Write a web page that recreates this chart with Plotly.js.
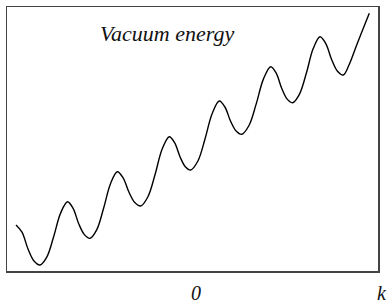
<!DOCTYPE html>
<html>
<head>
<meta charset="utf-8">
<script src="https://cdn.plot.ly/plotly-3.0.1.min.js"></script>
<style>html,body{margin:0;padding:0;background:#fff;}#chart{width:390px;height:305px;}</style>
</head>
<body>
<div id="chart"></div>
<script>
// Wave number k (arbitrary units) and vacuum energy (arbitrary units)
const kValues = [-17.9, -17.3, -16.7, -16.1, -15.5, -14.81, -14.13, -13.44, -12.75, -12.19,
  -11.63, -11.06, -10.5, -9.82, -9.14, -8.45, -7.77, -7.19, -6.6, -6.02,
  -5.43, -4.72, -4.0, -3.29, -2.57, -2.04, -1.5, -0.97, -0.43, 0.29,
  1.0, 1.72, 2.43, 2.99, 3.55, 4.11, 4.67, 5.4, 6.12, 6.85,
  7.57, 8.12, 8.67, 9.22, 9.77, 10.45, 11.14, 11.82, 12.5, 13.08,
  13.67, 14.25, 14.83, 15.4, 16.17, 16.8, 17.43];
const energyValues = [4.6, 3.88, 2.2, 1.0, 0.6, 1.42, 3.45, 5.79, 6.93, 6.27,
  4.73, 3.64, 3.27, 4.14, 6.27, 8.73, 9.93, 9.31, 7.87, 6.84,
  6.5, 7.4, 9.62, 12.18, 13.43, 12.83, 11.43, 10.43, 10.1, 11.0,
  13.2, 15.76, 17.0, 16.4, 15.0, 14.0, 13.67, 14.55, 16.71, 19.21,
  20.43, 19.78, 18.27, 17.19, 16.83, 17.69, 19.8, 22.24, 23.43, 22.74,
  21.13, 19.98, 19.6, 20.6, 22.6, 24.2, 25.77];
const chartTitle = "Vacuum energy";
const axisLabels = ["0", "k"];

const serif = "Times New Roman";

const trace = {
  x: kValues,
  y: energyValues,
  type: 'scatter',
  mode: 'lines',
  line: {color: '#000', width: 1.4, shape: 'spline', smoothing: 1},
  hoverinfo: 'skip'
};

const layout = {
  width: 390, height: 305,
  margin: {l: 7, r: 12, t: 7, b: 34, pad: 0},
  paper_bgcolor: '#fff', plot_bgcolor: '#fff',
  showlegend: false,
  xaxis: {range: [-18.8, 18.3], showgrid: false, zeroline: false, showticklabels: false,
    ticks: '', showline: true, mirror: true, linecolor: '#444', linewidth: 1.5},
  yaxis: {range: [0, 26.4], showgrid: false, zeroline: false, showticklabels: false,
    ticks: '', showline: true, mirror: true, linecolor: '#444', linewidth: 1.5},
  annotations: [
    {text: chartTitle, xref: 'paper', yref: 'paper', x: 0.4305, y: 0.899,
     xanchor: 'center', yanchor: 'middle', showarrow: false,
     font: {family: serif, size: 22, color: '#111', style: 'italic'}},
    {text: axisLabels[0], xref: 'paper', yref: 'paper', x: 0.509, y: -0.0845,
     xanchor: 'center', yanchor: 'middle', showarrow: false,
     font: {family: serif, size: 20, color: '#111', style: 'italic'}},
    {text: axisLabels[1], xref: 'paper', yref: 'paper', x: 1.0108, y: -0.0845,
     xanchor: 'center', yanchor: 'middle', showarrow: false,
     font: {family: serif, size: 20, color: '#111', style: 'italic'}}
  ]
};

Plotly.newPlot('chart', [trace], layout, {staticPlot: true, displayModeBar: false});
</script>
</body>
</html>
